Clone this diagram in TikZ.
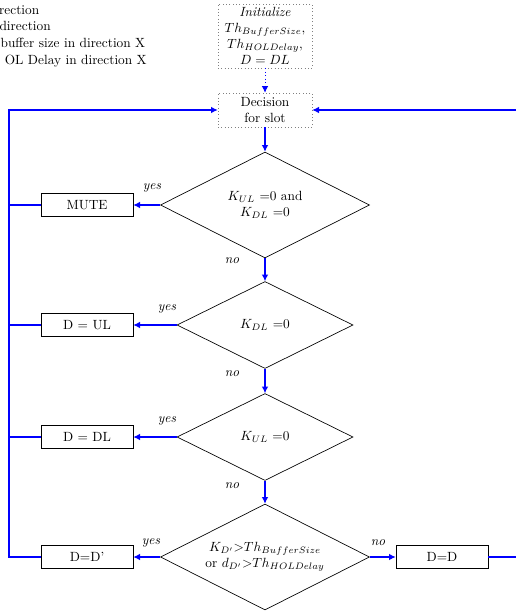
\documentclass[tikz,border=0pt]{standalone}
\usetikzlibrary{shapes.geometric,arrows.meta}
\begin{document}
\begin{tikzpicture}[x=0.75pt,y=-0.75pt,
  box/.style={draw, line width=0.5pt, minimum width=69pt, minimum height=17.25pt, inner sep=1pt},
  dec/.style={draw, diamond, line width=0.5pt, inner sep=0pt},
  dectext/.style={label={[align=center]center:#1}},
  dotbox/.style={draw=gray, dotted, line width=0.5pt, inner sep=0pt, align=center, minimum width=70.5pt},
  conn/.style={draw=blue, line width=0.8pt, -{Latex[length=5pt,width=5pt]}, color=blue},
  link/.style={draw=blue, line width=0.8pt},
  lbl/.style={font=\itshape, inner sep=0pt},
  legend/.style={anchor=base east, inner sep=0pt}]
\useasboundingbox (0,0) rectangle (516,614);
\clip (0,0) rectangle (516,614);

% legend (the part that the picture shows)
\node[legend] (lg1) at (39.5,14.5) {rection};
\node[legend] (lg2) at (51,31) {direction};
\node[legend] (lg3) at (145.5,47.5) {buffer size in direction X};
\node[legend] (lg4) at (147,64) {OL Delay in direction X};

% nodes
\node[dotbox, minimum height=48pt] (init) at (265,36)
  {\textit{Initialize}\\$Th_{BufferSize}$,\\$Th_{HOLDelay}$,\\$D=DL$};
\node[dotbox, minimum height=25.5pt] (dec) at (265,110) {Decision\\for slot};
\node[dec, minimum width=156.75pt, minimum height=79.5pt,
  dectext={$K_{UL}$ =0 and\\$K_{DL}$ =0}] (c1) at (265,205) {};
\node[dec, minimum width=132pt, minimum height=65.25pt,
  dectext={$K_{DL}$ =0}] (c2) at (265,325) {};
\node[dec, minimum width=132pt, minimum height=65.25pt,
  dectext={$K_{UL}$ =0}] (c3) at (265,437) {};
\node[dec, minimum width=156.75pt, minimum height=79.5pt,
  dectext={$K_{D'}{>}Th_{BufferSize}$\\or $d_{D'}{>}Th_{HOLDelay}$}] (c4) at (265,557) {};
\node[box] (mute) at (87,205) {MUTE};
\node[box] (ul) at (87,325) {D = UL};
\node[box] (dl) at (87,437) {D = DL};
\node[box] (dp) at (87,557) {D=D'};
\node[box] (dd) at (442,557) {D=D};

\coordinate (L) at (9,557);

% connectors
\draw[conn, line width=0.6pt, dotted] (init) -- (dec);
\draw[conn] (dec) -- (c1);
\draw[conn] (c1) -- (c2);
\draw[conn] (c2) -- (c3);
\draw[conn] (c3) -- (c4);
\draw[conn] (c1.west) -- (mute);
\draw[conn] (c2.west) -- (ul);
\draw[conn] (c3.west) -- (dl);
\draw[conn] (c4.west) -- (dp);
\draw[conn] (c4.east) -- (dd);

\draw[conn] (dp.west) -- (L) |- (dec.west);
\draw[link] (mute.west) -- (mute.west -| L);
\draw[link] (ul.west) -- (ul.west -| L);
\draw[link] (dl.west) -- (dl.west -| L);
\draw[conn] (dd.east) -- ++(60,0) |- (dec.east);

% labels
\node[lbl] (y1) at (152,188) {yes};
\node[lbl] (y2) at (167,309) {yes};
\node[lbl] (y3) at (167,421) {yes};
\node[lbl] (y4) at (151,543) {yes};
\node[lbl] (n1) at (232,261) {no};
\node[lbl] (n2) at (232,374) {no};
\node[lbl] (n3) at (232,486) {no};
\node[lbl] (n4) at (378,543) {no};
\end{tikzpicture}
\end{document}
